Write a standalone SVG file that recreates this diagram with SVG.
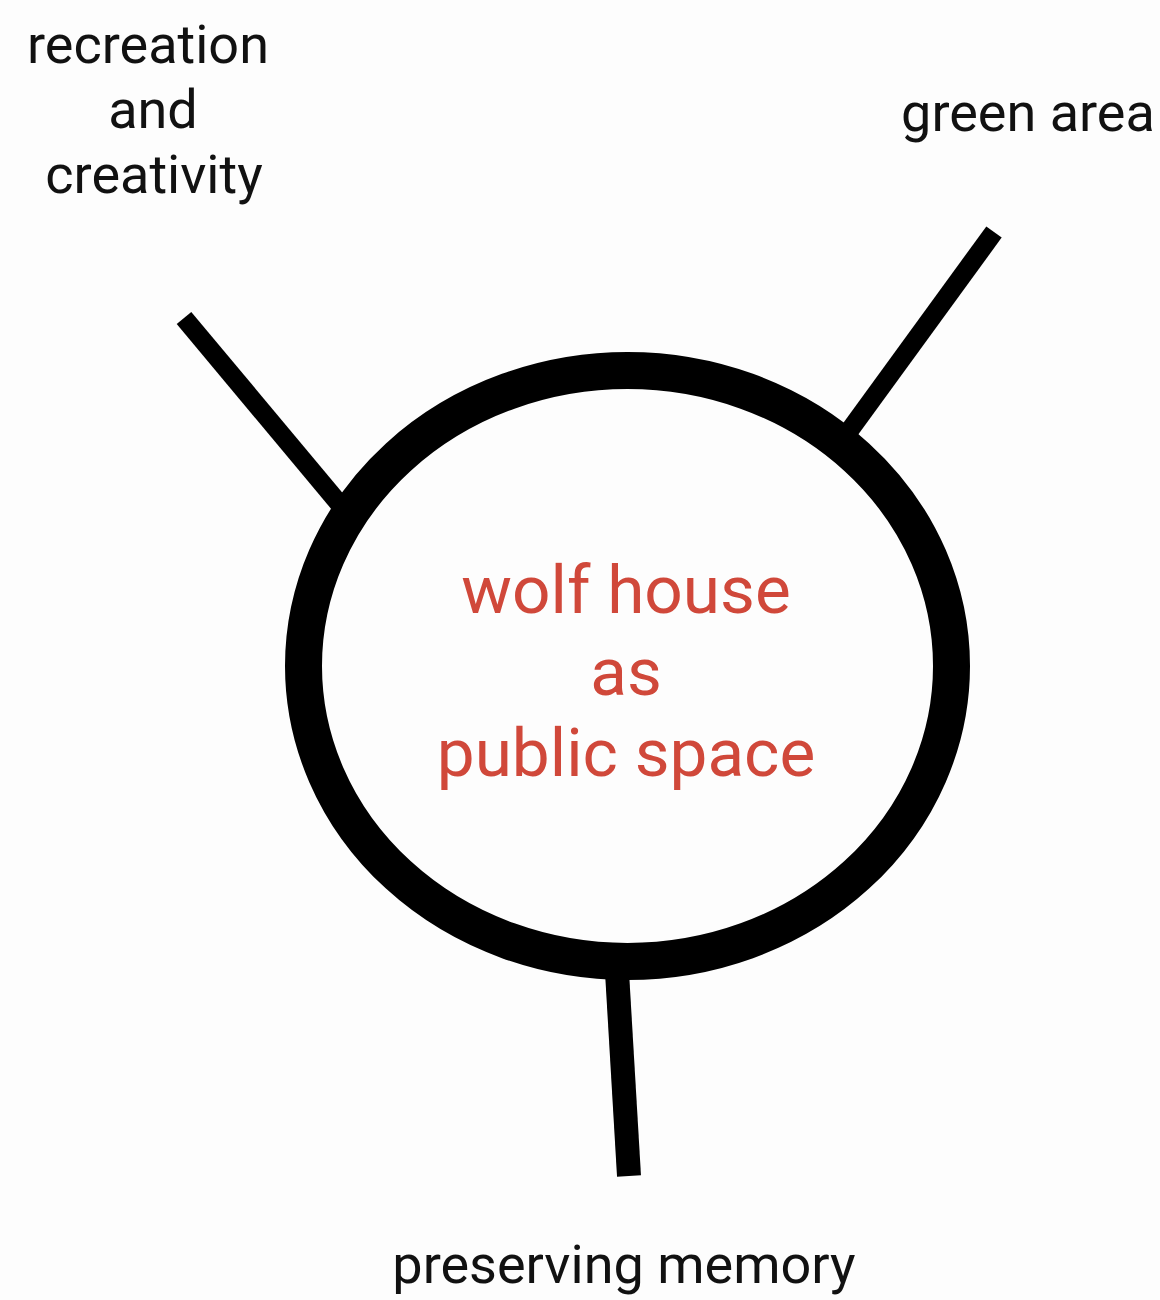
<svg xmlns="http://www.w3.org/2000/svg" width="1160" height="1300" viewBox="0 0 1160 1300">
<style>
.lbl{font-family:Roboto,"Liberation Sans",sans-serif;font-size:54px;fill:#111;text-anchor:middle}
.ctr{font-family:Roboto,"Liberation Sans",sans-serif;font-size:67.5px;fill:#d0483a;text-anchor:middle}
.con{stroke:#000;fill:none;stroke-linecap:butt}
</style>
<rect width="1160" height="1300" fill="#fdfdfd"/>
<g id="connectors">
<line class="con" x1="184" y1="318" x2="362" y2="531" stroke-width="19"/>
<line class="con" x1="994" y1="232" x2="828" y2="460" stroke-width="19"/>
<line class="con" x1="616" y1="955" x2="629" y2="1176" stroke-width="24"/>
</g>
<g id="hub">
<ellipse cx="627.5" cy="666" rx="324" ry="295.5" fill="#fdfdfd" stroke="#000" stroke-width="37"/>
<text class="ctr" x="626" y="613">wolf house</text>
<text class="ctr" x="626" y="695">as</text>
<text class="ctr" x="626" y="776">public space</text>
</g>
<g id="recreation">
<text class="lbl" x="148" y="63">recreation</text>
<text class="lbl" x="153" y="128">and</text>
<text class="lbl" x="154" y="193">creativity</text>
</g>
<g id="green">
<text class="lbl" x="1028" y="131">green area</text>
</g>
<g id="memory">
<text class="lbl" x="624" y="1283">preserving memory</text>
</g>
</svg>
